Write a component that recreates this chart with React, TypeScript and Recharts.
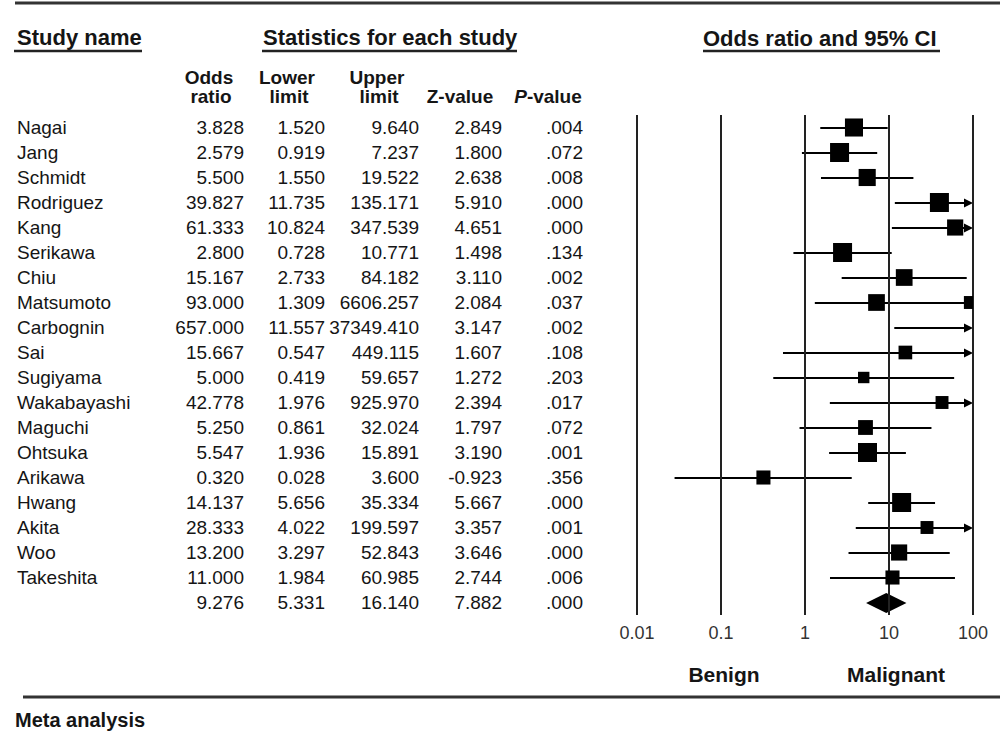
import React from 'react';
import { ComposedChart, XAxis, YAxis, Bar, Scatter, ReferenceLine } from 'recharts';

// Study-level statistics
const studies = [
  'Nagai', 'Jang', 'Schmidt', 'Rodriguez', 'Kang', 'Serikawa', 'Chiu', 'Matsumoto', 'Carbognin', 'Sai',
  'Sugiyama', 'Wakabayashi', 'Maguchi', 'Ohtsuka', 'Arikawa', 'Hwang', 'Akita', 'Woo', 'Takeshita',
];
const oddsRatios = [3.828, 2.579, 5.5, 39.827, 61.333, 2.8, 15.167, 93.0, 657.0, 15.667, 5.0, 42.778, 5.25, 5.547, 0.32, 14.137, 28.333, 13.2, 11.0];
const lowerLimits = [1.52, 0.919, 1.55, 11.735, 10.824, 0.728, 2.733, 1.309, 11.557, 0.547, 0.419, 1.976, 0.861, 1.936, 0.028, 5.656, 4.022, 3.297, 1.984];
const upperLimits = [9.64, 7.237, 19.522, 135.171, 347.539, 10.771, 84.182, 6606.257, 37349.41, 449.115, 59.657, 925.97, 32.024, 15.891, 3.6, 35.334, 199.597, 52.843, 60.985];
const zValues = [2.849, 1.8, 2.638, 5.91, 4.651, 1.498, 3.11, 2.084, 3.147, 1.607, 1.272, 2.394, 1.797, 3.19, -0.923, 5.667, 3.357, 3.646, 2.744];
const pValues = ['.004', '.072', '.008', '.000', '.000', '.134', '.002', '.037', '.002', '.108', '.203', '.017', '.072', '.001', '.356', '.000', '.001', '.000', '.006'];
// relative study weights (square size), estimated from the plot
const relWeights = [0.95, 1.0, 0.9, 1.0, 0.85, 1.0, 0.88, 0.68, 0, 0.72, 0.6, 0.68, 0.78, 1.0, 0.74, 1.0, 0.68, 0.85, 0.74];

// pooled result
const summaryStats = { or: 9.276, lower: 5.331, upper: 16.14, z: 7.882, p: '.000' };

// an extra marker that appears on the Matsumoto row in the figure
const extraMarks = [{ name: 'Matsumoto', or: 7.1, weight: 0.88 }];

const axisTicks = [0.01, 0.1, 1, 10, 100];
const MIN_X = 0.01;
const MAX_X = 100;
const SUMMARY = 'Summary';

const FONT = '"Liberation Sans", Arial, Helvetica, sans-serif';
const SQUARE_MAX = 19;

const rows = studies.map((name, i) => ({
  name,
  or: oddsRatios[i],
  lower: lowerLimits[i],
  upper: upperLimits[i],
  z: zValues[i],
  p: pValues[i],
  weight: relWeights[i],
  ci: [Math.max(lowerLimits[i], MIN_X), Math.min(upperLimits[i], MAX_X)],
  summary: false,
}));
rows.push({
  name: SUMMARY,
  or: summaryStats.or,
  lower: summaryStats.lower,
  upper: summaryStats.upper,
  z: summaryStats.z,
  p: summaryStats.p,
  weight: 0,
  ci: [summaryStats.lower, summaryStats.upper],
  summary: true,
});

// left-hand table, drawn as the y-axis ticks so each row sits on its band
const TableTick = ({ y, payload }: any) => {
  const row = rows.find((r) => r.name === payload.value);
  if (!row) return null;
  const common = { y, dy: '0.35em', fontSize: 19, fill: '#151515', fontFamily: FONT };
  return (
    <g>
      {!row.summary && <text x={17} {...common}>{row.name}</text>}
      <text x={244} textAnchor="end" {...common}>{row.or.toFixed(3)}</text>
      <text x={325} textAnchor="end" {...common}>{row.lower.toFixed(3)}</text>
      <text x={419} textAnchor="end" {...common}>{row.upper.toFixed(3)}</text>
      <text x={502} textAnchor="end" {...common}>{row.z.toFixed(3)}</text>
      <text x={583} textAnchor="end" {...common}>{row.p}</text>
    </g>
  );
};

const XTick = ({ x, y, payload }: any) => (
  <text x={x} y={y + 24} textAnchor="middle" fontSize={18} fill="#333" fontFamily={FONT}>
    {payload.value}
  </text>
);

// confidence interval line (arrow when it runs past 100), diamond for the pooled row
const CiShape = (props: any) => {
  const { x, y, width, height, payload } = props;
  const left = Math.min(x, x + width);
  const right = Math.max(x, x + width);
  const cy = y + height / 2;
  if (payload.summary) {
    const mid = (left + right) / 2;
    return (
      <polygon
        points={`${left},${cy} ${mid},${cy - 10} ${right},${cy} ${mid},${cy + 10}`}
        fill="#000"
      />
    );
  }
  const arrow = payload.upper > MAX_X;
  return (
    <g>
      <line x1={left} y1={cy} x2={arrow ? right - 8 : right} y2={cy} stroke="#000" strokeWidth={2} />
      {arrow && <polygon points={`${right},${cy} ${right - 9},${cy - 4.5} ${right - 9},${cy + 4.5}`} fill="#000" />}
    </g>
  );
};

const SquareShape = (props: any) => {
  const { cx, cy, payload } = props;
  if (payload.summary || !payload.weight || payload.or > MAX_X || payload.or < MIN_X) return null;
  const s = payload.weight * SQUARE_MAX;
  return <rect x={cx - s / 2} y={cy - s / 2} width={s} height={s} fill="#000" />;
};

const headerText = { fontFamily: FONT, fontWeight: 700, fill: '#151515' } as const;

export default function App() {
  return (
    <div style={{ position: 'absolute', left: 0, top: 0, width: 1000, height: 735, background: '#fff' }}>
      <ComposedChart
        width={1000}
        height={735}
        data={rows}
        layout="vertical"
        margin={{ top: 115, right: 27, bottom: 80, left: 0 }}
      >
        <XAxis
          type="number"
          dataKey="or"
          scale="log"
          domain={[MIN_X, MAX_X]}
          allowDataOverflow
          ticks={axisTicks}
          tick={<XTick />}
          tickSize={0}
          tickMargin={0}
          axisLine={false}
          tickLine={false}
          height={40}
        />
        <YAxis
          type="category"
          dataKey="name"
          width={637}
          allowDuplicatedCategory={false}
          interval={0}
          tick={<TableTick />}
          tickLine={false}
          axisLine={false}
        />
        {axisTicks.map((t) => (
          <ReferenceLine key={t} x={t} stroke="#222" strokeWidth={2} />
        ))}
        <Bar dataKey="ci" barSize={2} shape={<CiShape />} isAnimationActive={false} />
        <Scatter shape={<SquareShape />} isAnimationActive={false} />
        <Scatter data={extraMarks} shape={<SquareShape />} isAnimationActive={false} />
      </ComposedChart>

      <svg width={1000} height={735} style={{ position: 'absolute', left: 0, top: 0, pointerEvents: 'none' }}>
        <line x1={15} x2={1000} y1={3} y2={3} stroke="#333" strokeWidth={3} />

        <text x={17} y={37} dy="0.35em" fontSize={22} {...headerText}>Study name</text>
        <line x1={14} x2={142} y1={51} y2={51} stroke="#222" strokeWidth={2.5} />
        <text x={263} y={37} dy="0.35em" fontSize={22} {...headerText}>Statistics for each study</text>
        <line x1={262} x2={517} y1={51} y2={51} stroke="#222" strokeWidth={2.5} />
        <text x={703} y={38} dy="0.35em" fontSize={22} {...headerText}>Odds ratio and 95% CI</text>
        <line x1={703} x2={940} y1={51} y2={51} stroke="#222" strokeWidth={2.5} />

        <g fontSize={19} textAnchor="middle" {...headerText}>
          <text x={209} y={77} dy="0.35em">Odds</text>
          <text x={211} y={96} dy="0.35em">ratio</text>
          <text x={287} y={77} dy="0.35em">Lower</text>
          <text x={289} y={96} dy="0.35em">limit</text>
          <text x={377} y={77} dy="0.35em">Upper</text>
          <text x={379} y={96} dy="0.35em">limit</text>
          <text x={460} y={96} dy="0.35em">Z-value</text>
          <text x={548} y={96} dy="0.35em">
            <tspan fontStyle="italic">P</tspan>-value
          </text>
        </g>

        <text x={724} y={675} dy="0.35em" fontSize={21} textAnchor="middle" {...headerText}>Benign</text>
        <text x={896} y={675} dy="0.35em" fontSize={21} textAnchor="middle" {...headerText}>Malignant</text>

        <line x1={23} x2={1000} y1={697} y2={697} stroke="#333" strokeWidth={3} />
        <text x={15} y={720} dy="0.35em" fontSize={20} {...headerText}>Meta analysis</text>
      </svg>
    </div>
  );
}
